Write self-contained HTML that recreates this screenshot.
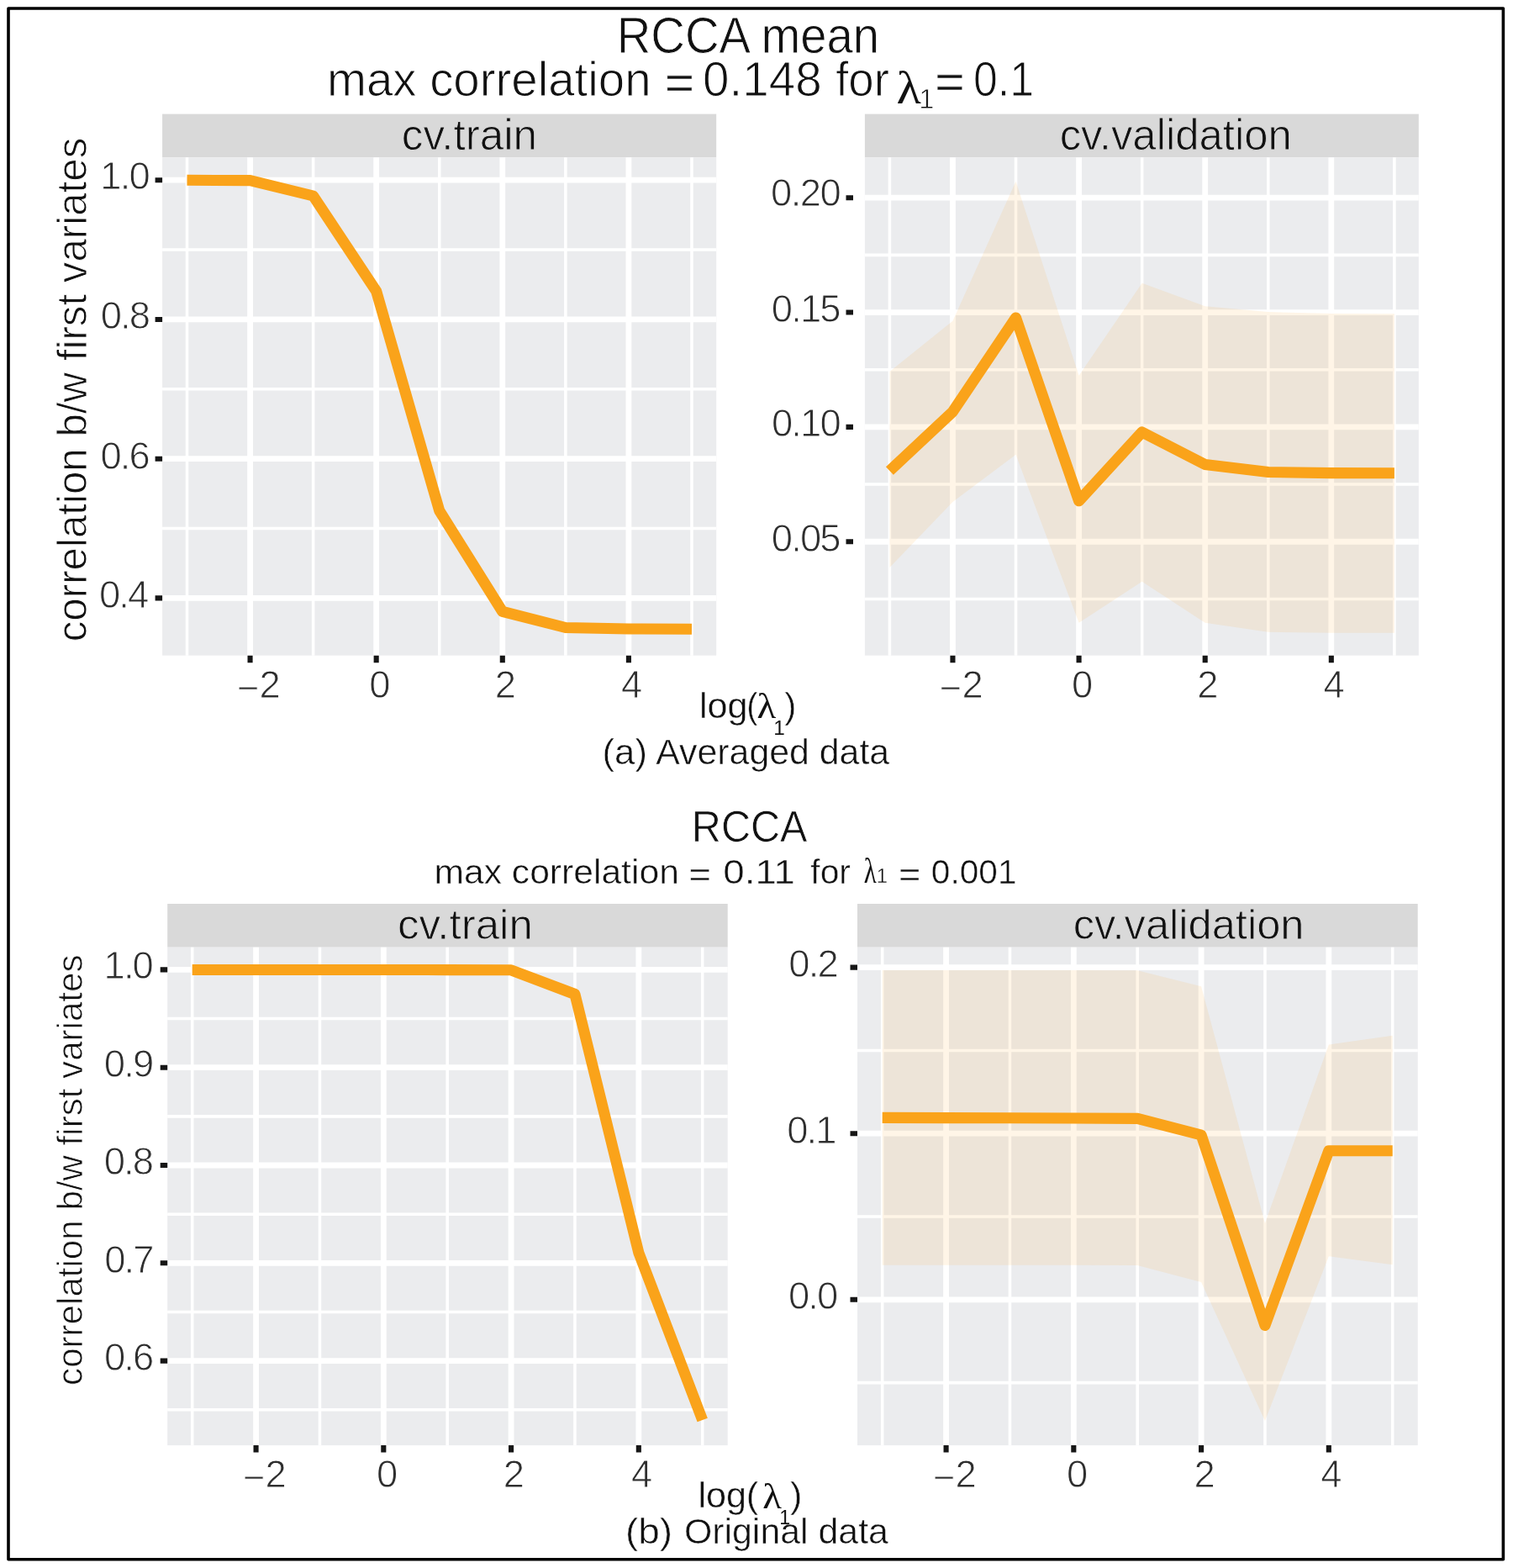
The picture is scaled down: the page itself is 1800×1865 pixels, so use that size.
<!DOCTYPE html>
<html lang="en"><head><meta charset="utf-8"><title>RCCA cross-validation</title>
<style>html,body{margin:0;padding:0;background:#fff}svg{display:block}text{font-family:'Liberation Sans', sans-serif;white-space:pre}</style>
</head><body>
<svg width="1800" height="1865" viewBox="0 0 1800 1865">
<rect x="0" y="0" width="1800" height="1865" fill="#fff"/>
<rect x="10" y="10" width="1778.4" height="1844.7" fill="none" stroke="#000" stroke-width="3.6" stroke-linejoin="round"/>
<g id="tl">
<rect x="193.1" y="135.6" width="659.1" height="51.7" fill="#D9D9D9"/>
<rect x="193.1" y="187.3" width="659.1" height="592.35" fill="#EBECEE"/>
<path d="M193.1 297.07H852.2M193.1 462.81H852.2M193.1 628.55H852.2M222.5 187.3V779.65M372.62 187.3V779.65M522.74 187.3V779.65M672.86 187.3V779.65M822.98 187.3V779.65" stroke="#fff" stroke-width="3.55" fill="none"/>
<path d="M193.1 214.2H852.2M193.1 379.94H852.2M193.1 545.68H852.2M193.1 711.42H852.2M297.56 187.3V779.65M447.68 187.3V779.65M597.8 187.3V779.65M747.92 187.3V779.65" stroke="#fff" stroke-width="6.8" fill="none"/>
<polyline points="222.5,214.3 297.56,214.6 372.62,233 447.68,346.4 522.74,607.5 597.8,727.4 672.86,746.5 747.92,748 822.98,748.3" fill="none" stroke="#FAA31A" stroke-width="13.1" stroke-linejoin="round" stroke-linecap="butt"/>
<path d="M184.6 214.2H193.1M184.6 379.94H193.1M184.6 545.68H193.1M184.6 711.42H193.1M297.56 779.65V788.15M447.68 779.65V788.15M597.8 779.65V788.15M747.92 779.65V788.15" stroke="#161616" stroke-width="6.1" fill="none"/>
</g>
<g id="tr">
<rect x="1028.9" y="135.6" width="658.9" height="51.7" fill="#D9D9D9"/>
<rect x="1028.9" y="187.3" width="658.9" height="592.35" fill="#EBECEE"/>
<path d="M1028.9 303.38H1687.8M1028.9 439.73H1687.8M1028.9 576.08H1687.8M1028.9 712.42H1687.8M1058.4 187.3V779.65M1208.52 187.3V779.65M1358.64 187.3V779.65M1508.76 187.3V779.65M1658.88 187.3V779.65" stroke="#fff" stroke-width="3.55" fill="none"/>
<path d="M1028.9 235.2H1687.8M1028.9 371.55H1687.8M1028.9 507.9H1687.8M1028.9 644.25H1687.8M1133.46 187.3V779.65M1283.58 187.3V779.65M1433.7 187.3V779.65M1583.82 187.3V779.65" stroke="#fff" stroke-width="6.8" fill="none"/>
<polygon points="1058.4,442 1133.46,381.7 1208.52,215.8 1283.58,446.7 1358.64,336.7 1433.7,364.2 1508.76,371 1583.82,373 1658.88,373.3 1658.88,752.8 1583.82,752.8 1508.76,751.7 1433.7,740.8 1358.64,691.7 1283.58,740.8 1208.52,540.8 1133.46,597 1058.4,675" fill="#FFA828" fill-opacity="0.115"/>
<polyline points="1058.4,560 1133.46,489.7 1208.52,378 1283.58,595.8 1358.64,514 1433.7,552.5 1508.76,561.5 1583.82,562.6 1658.88,562.7" fill="none" stroke="#FAA31A" stroke-width="13.1" stroke-linejoin="round" stroke-linecap="butt"/>
<path d="M1006.5 235.2H1015M1006.5 371.55H1015M1006.5 507.9H1015M1006.5 644.25H1015M1133.46 779.65V788.15M1283.58 779.65V788.15M1433.7 779.65V788.15M1583.82 779.65V788.15" stroke="#161616" stroke-width="6.1" fill="none"/>
</g>
<g id="bl">
<rect x="199.2" y="1075" width="666.5" height="51.7" fill="#D9D9D9"/>
<rect x="199.2" y="1126.7" width="666.5" height="592.4" fill="#EBECEE"/>
<path d="M199.2 1211.55H865.7M199.2 1327.85H865.7M199.2 1444.15H865.7M199.2 1560.45H865.7M199.2 1676.75H865.7M228.7 1126.7V1719.1M380.45 1126.7V1719.1M532.2 1126.7V1719.1M683.95 1126.7V1719.1M835.7 1126.7V1719.1" stroke="#fff" stroke-width="3.55" fill="none"/>
<path d="M199.2 1153.4H865.7M199.2 1269.7H865.7M199.2 1386H865.7M199.2 1502.3H865.7M199.2 1618.6H865.7M304.57 1126.7V1719.1M456.32 1126.7V1719.1M608.08 1126.7V1719.1M759.83 1126.7V1719.1" stroke="#fff" stroke-width="6.8" fill="none"/>
<polyline points="228.7,1153.5 304.57,1153.5 380.45,1153.5 456.32,1153.5 532.2,1153.6 608.08,1153.8 683.95,1182.5 759.83,1490 835.7,1689" fill="none" stroke="#FAA31A" stroke-width="13.1" stroke-linejoin="round" stroke-linecap="butt"/>
<path d="M190.7 1153.4H199.2M190.7 1269.7H199.2M190.7 1386H199.2M190.7 1502.3H199.2M190.7 1618.6H199.2M304.57 1719.1V1727.6M456.32 1719.1V1727.6M608.08 1719.1V1727.6M759.83 1719.1V1727.6" stroke="#161616" stroke-width="6.1" fill="none"/>
</g>
<g id="br">
<rect x="1020" y="1075" width="666.7" height="51.7" fill="#D9D9D9"/>
<rect x="1020" y="1126.7" width="666.7" height="592.4" fill="#EBECEE"/>
<path d="M1020 1249.4H1686.7M1020 1447H1686.7M1020 1644.6H1686.7M1049.7 1126.7V1719.1M1201.45 1126.7V1719.1M1353.2 1126.7V1719.1M1504.95 1126.7V1719.1M1656.7 1126.7V1719.1" stroke="#fff" stroke-width="3.55" fill="none"/>
<path d="M1020 1150.6H1686.7M1020 1348.2H1686.7M1020 1545.8H1686.7M1125.58 1126.7V1719.1M1277.33 1126.7V1719.1M1429.08 1126.7V1719.1M1580.83 1126.7V1719.1" stroke="#fff" stroke-width="6.8" fill="none"/>
<polygon points="1049.7,1154 1125.58,1154 1201.45,1154 1277.33,1154 1353.2,1154.2 1429.08,1173.3 1504.95,1455 1580.83,1242.5 1656.7,1231.7 1656.7,1504.2 1580.83,1494.2 1504.95,1690 1429.08,1525 1353.2,1505 1277.33,1504.7 1201.45,1504.7 1125.58,1504.7 1049.7,1504.7" fill="#FFA828" fill-opacity="0.115"/>
<polyline points="1049.7,1329.4 1125.58,1329.6 1201.45,1329.8 1277.33,1330 1353.2,1330.4 1429.08,1350 1504.95,1576.5 1580.83,1368.8 1656.7,1368.8" fill="none" stroke="#FAA31A" stroke-width="13.1" stroke-linejoin="round" stroke-linecap="butt"/>
<path d="M1011.5 1150.6H1020M1011.5 1348.2H1020M1011.5 1545.8H1020M1125.58 1719.1V1727.6M1277.33 1719.1V1727.6M1429.08 1719.1V1727.6M1580.83 1719.1V1727.6" stroke="#161616" stroke-width="6.1" fill="none"/>
</g>
<g id="labels">
<text id="title1" x="733.75" y="63.02" font-size="60.9" textLength="312.21" lengthAdjust="spacingAndGlyphs" fill="#111" stroke="#fff" stroke-width="0.8">RCCA mean</text>
<text id="sub1-line"><tspan x="388.95" y="114.49" font-size="56.69" textLength="385.57" lengthAdjust="spacingAndGlyphs" fill="#111" stroke="#fff" stroke-width="1.0">max correlation</tspan> <tspan x="790.88" y="117.61" font-size="56.69" textLength="35.44" lengthAdjust="spacingAndGlyphs" fill="#111" stroke="#fff" stroke-width="0.7">=</tspan> <tspan x="836.11" y="114.49" font-size="56.69" textLength="141.5" lengthAdjust="spacingAndGlyphs" fill="#111" stroke="#fff" stroke-width="1.0">0.148</tspan> <tspan x="994.15" y="114.49" font-size="56.69" textLength="63.75" lengthAdjust="spacingAndGlyphs" fill="#111" stroke="#fff" stroke-width="1.0">for</tspan> <tspan x="1066.56" y="123.06" font-size="53.98" textLength="29.36" lengthAdjust="spacingAndGlyphs" fill="#111" style="font-family:'Liberation Serif', serif">λ</tspan><tspan x="1093.16" y="128.73" font-size="32.67" fill="#111" stroke="#fff" stroke-width="0.8">1</tspan> <tspan x="1112.09" y="117.11" font-size="56.69" textLength="35.95" lengthAdjust="spacingAndGlyphs" fill="#111" stroke="#fff" stroke-width="0.7">=</tspan> <tspan x="1157.94" y="114.49" font-size="56.69" textLength="72.05" lengthAdjust="spacingAndGlyphs" fill="#111" stroke="#fff" stroke-width="1.0">0.1</tspan></text>
<text id="strip1" x="477.78" y="177.75" font-size="51.8" textLength="161.33" lengthAdjust="spacingAndGlyphs" fill="#111" stroke="#D9D9D9" stroke-width="0.9">cv.train</text>
<text id="strip2" x="1260.64" y="177.75" font-size="51.8" textLength="276.31" lengthAdjust="spacingAndGlyphs" fill="#111" stroke="#D9D9D9" stroke-width="0.9">cv.validation</text>
<text id="ylab1" x="103.19" y="763.3" font-size="50.39" textLength="599.65" lengthAdjust="spacingAndGlyphs" fill="#111" stroke="#fff" stroke-width="0.9" transform="rotate(-90 103.19 763.3)">correlation b/w first variates</text>
<text id="tly0" x="178.65" y="225.24" font-size="45.42" textLength="59.33" lengthAdjust="spacing" fill="#2e2e2e" stroke="#fff" stroke-width="0.9" text-anchor="end">1.0</text>
<text id="tly1" x="179.02" y="391.35" font-size="45.42" textLength="59.33" lengthAdjust="spacing" fill="#2e2e2e" stroke="#fff" stroke-width="0.9" text-anchor="end">0.8</text>
<text id="tly2" x="178.8" y="557.53" font-size="45.42" textLength="59.33" lengthAdjust="spacing" fill="#2e2e2e" stroke="#fff" stroke-width="0.9" text-anchor="end">0.6</text>
<text id="tly3" x="177.32" y="722.64" font-size="45.42" textLength="59.33" lengthAdjust="spacing" fill="#2e2e2e" stroke="#fff" stroke-width="0.9" text-anchor="end">0.4</text>
<text id="ytick0" x="1000.72" y="245.14" font-size="45.42" textLength="83.79" lengthAdjust="spacing" fill="#2e2e2e" stroke="#fff" stroke-width="0.9" text-anchor="end">0.20</text>
<text id="try0" x="1000.52" y="382.59" font-size="45.42" textLength="82.67" lengthAdjust="spacing" fill="#2e2e2e" stroke="#fff" stroke-width="0.9" text-anchor="end">0.15</text>
<text id="try1" x="1000.65" y="519.04" font-size="45.42" textLength="82.67" lengthAdjust="spacing" fill="#2e2e2e" stroke="#fff" stroke-width="0.9" text-anchor="end">0.10</text>
<text id="try2" x="1000.52" y="656.49" font-size="45.42" textLength="82.67" lengthAdjust="spacing" fill="#2e2e2e" stroke="#fff" stroke-width="0.9" text-anchor="end">0.05</text>
<text id="tlx0" x="307.89" y="829.74" font-size="45.42" fill="#2e2e2e" stroke="#fff" stroke-width="0.9" text-anchor="middle"><tspan dy="3.86">−</tspan><tspan dy="-3.86">2</tspan></text>
<text id="tlx1" x="451.77" y="829.86" font-size="45.42" fill="#2e2e2e" stroke="#fff" stroke-width="0.9" text-anchor="middle">0</text>
<text id="tlx2" x="601.3" y="829.74" font-size="45.42" fill="#2e2e2e" stroke="#fff" stroke-width="0.9" text-anchor="middle">2</text>
<text id="tlx3" x="751.56" y="829.74" font-size="45.42" fill="#2e2e2e" stroke="#fff" stroke-width="0.9" text-anchor="middle">4</text>
<text id="trx0" x="1143.76" y="829.74" font-size="45.42" fill="#2e2e2e" stroke="#fff" stroke-width="0.9" text-anchor="middle"><tspan dy="3.86">−</tspan><tspan dy="-3.86">2</tspan></text>
<text id="trx1" x="1287.69" y="829.83" font-size="45.42" fill="#2e2e2e" stroke="#fff" stroke-width="0.9" text-anchor="middle">0</text>
<text id="trx2" x="1436.95" y="829.74" font-size="45.42" fill="#2e2e2e" stroke="#fff" stroke-width="0.9" text-anchor="middle">2</text>
<text id="trx3" x="1587.24" y="829.74" font-size="45.42" fill="#2e2e2e" stroke="#fff" stroke-width="0.9" text-anchor="middle">4</text>
<text id="xlab1-line"><tspan x="831.97" y="854.46" font-size="42" textLength="57.67" lengthAdjust="spacingAndGlyphs" fill="#111" stroke="#fff" stroke-width="0.4">log</tspan><tspan x="888.32" y="854.46" font-size="42" textLength="13.21" lengthAdjust="spacingAndGlyphs" fill="#111" stroke="#fff" stroke-width="0.4">(</tspan><tspan x="900.4" y="854.06" font-size="41.18" textLength="22.77" lengthAdjust="spacingAndGlyphs" fill="#111" style="font-family:'Liberation Serif', serif">λ</tspan><tspan x="920.15" y="874.38" font-size="24.34" fill="#111">1</tspan><tspan x="933.2" y="854.46" font-size="42" textLength="14.11" lengthAdjust="spacingAndGlyphs" fill="#111" stroke="#fff" stroke-width="0.4">)</tspan></text>
<text id="cap1-line"><tspan x="716.51" y="908.8" font-size="43.2" textLength="53.48" lengthAdjust="spacingAndGlyphs" fill="#111" stroke="#fff" stroke-width="0.5">(a)</tspan> <tspan x="780.25" y="908.8" font-size="43.2" textLength="277.94" lengthAdjust="spacingAndGlyphs" fill="#111" stroke="#fff" stroke-width="0.5">Averaged data</tspan></text>
<text id="title2" x="822.84" y="1000.96" font-size="51.55" textLength="137.63" lengthAdjust="spacingAndGlyphs" fill="#111" stroke="#fff" stroke-width="0.7">RCCA</text>
<text id="sub2-line"><tspan x="516.5" y="1050.96" font-size="41.09" textLength="291.34" lengthAdjust="spacingAndGlyphs" fill="#111" stroke="#fff" stroke-width="0.5">max correlation</tspan> <tspan x="819.58" y="1053.63" font-size="41.09" textLength="26.56" lengthAdjust="spacingAndGlyphs" fill="#111" stroke="#fff" stroke-width="0.4">=</tspan> <tspan x="860.26" y="1050.96" font-size="41.09" textLength="85.7" lengthAdjust="spacingAndGlyphs" fill="#111" stroke="#fff" stroke-width="0.5">0.11</tspan> <tspan x="964.3" y="1050.96" font-size="41.09" textLength="47.62" lengthAdjust="spacingAndGlyphs" fill="#111" stroke="#fff" stroke-width="0.5">for</tspan> <tspan x="1027.74" y="1049.76" font-size="41.71" textLength="14.93" lengthAdjust="spacingAndGlyphs" fill="#111" style="font-family:'Liberation Serif', serif">λ</tspan><tspan x="1042.78" y="1049.68" font-size="23.93" fill="#111" stroke="#fff" stroke-width="0.3">1</tspan> <tspan x="1069.09" y="1053.63" font-size="41.09" textLength="26.27" lengthAdjust="spacingAndGlyphs" fill="#111" stroke="#fff" stroke-width="0.4">=</tspan> <tspan x="1107.85" y="1050.96" font-size="41.09" textLength="101.63" lengthAdjust="spacingAndGlyphs" fill="#111" stroke="#fff" stroke-width="0.5">0.001</tspan></text>
<text id="strip3" x="472.99" y="1117.18" font-size="50.42" textLength="160.89" lengthAdjust="spacingAndGlyphs" fill="#111" stroke="#D9D9D9" stroke-width="0.9">cv.train</text>
<text id="strip4" x="1276.68" y="1117.18" font-size="50.42" textLength="274.75" lengthAdjust="spacingAndGlyphs" fill="#111" stroke="#D9D9D9" stroke-width="0.9">cv.validation</text>
<text id="ylab2" x="97.7" y="1647.87" font-size="43.04" textLength="512.4" lengthAdjust="spacingAndGlyphs" fill="#111" stroke="#fff" stroke-width="0.8" transform="rotate(-90 97.7 1647.87)">correlation b/w first variates</text>
<text id="bly0" x="182.87" y="1164.24" font-size="45.42" textLength="59.33" lengthAdjust="spacing" fill="#2e2e2e" stroke="#fff" stroke-width="0.9" text-anchor="end">1.0</text>
<text id="bly1" x="183.17" y="1281.34" font-size="45.42" textLength="59.33" lengthAdjust="spacing" fill="#2e2e2e" stroke="#fff" stroke-width="0.9" text-anchor="end">0.9</text>
<text id="bly2" x="183.09" y="1397.44" font-size="45.42" textLength="59.33" lengthAdjust="spacing" fill="#2e2e2e" stroke="#fff" stroke-width="0.9" text-anchor="end">0.8</text>
<text id="bly3" x="183.54" y="1513.54" font-size="45.42" textLength="59.33" lengthAdjust="spacing" fill="#2e2e2e" stroke="#fff" stroke-width="0.9" text-anchor="end">0.7</text>
<text id="bly4" x="183.22" y="1629.64" font-size="45.42" textLength="59.33" lengthAdjust="spacing" fill="#2e2e2e" stroke="#fff" stroke-width="0.9" text-anchor="end">0.6</text>
<text id="bry0" x="997.66" y="1161.64" font-size="45.42" textLength="59.33" lengthAdjust="spacing" fill="#2e2e2e" stroke="#fff" stroke-width="0.9" text-anchor="end">0.2</text>
<text id="bry1" x="995.49" y="1359.84" font-size="45.42" textLength="59.33" lengthAdjust="spacing" fill="#2e2e2e" stroke="#fff" stroke-width="0.9" text-anchor="end">0.1</text>
<text id="bry2" x="997.23" y="1557.04" font-size="45.42" textLength="59.33" lengthAdjust="spacing" fill="#2e2e2e" stroke="#fff" stroke-width="0.9" text-anchor="end">0.0</text>
<text id="blx0" x="314.94" y="1769.04" font-size="45.42" fill="#2e2e2e" stroke="#fff" stroke-width="0.9" text-anchor="middle"><tspan dy="3.86">−</tspan><tspan dy="-3.86">2</tspan></text>
<text id="blx1" x="460.55" y="1769.13" font-size="45.42" fill="#2e2e2e" stroke="#fff" stroke-width="0.9" text-anchor="middle">0</text>
<text id="blx2" x="611.4" y="1769.04" font-size="45.42" fill="#2e2e2e" stroke="#fff" stroke-width="0.9" text-anchor="middle">2</text>
<text id="blx3" x="763.66" y="1769.04" font-size="45.42" fill="#2e2e2e" stroke="#fff" stroke-width="0.9" text-anchor="middle">4</text>
<text id="brx0" x="1135.94" y="1769.04" font-size="45.42" fill="#2e2e2e" stroke="#fff" stroke-width="0.9" text-anchor="middle"><tspan dy="3.86">−</tspan><tspan dy="-3.86">2</tspan></text>
<text id="brx1" x="1281.55" y="1769.13" font-size="45.42" fill="#2e2e2e" stroke="#fff" stroke-width="0.9" text-anchor="middle">0</text>
<text id="brx2" x="1433.06" y="1769.04" font-size="45.42" fill="#2e2e2e" stroke="#fff" stroke-width="0.9" text-anchor="middle">2</text>
<text id="brx3" x="1583.91" y="1769.04" font-size="45.42" fill="#2e2e2e" stroke="#fff" stroke-width="0.9" text-anchor="middle">4</text>
<text id="xlab2-line"><tspan x="830.47" y="1792.76" font-size="42.06" textLength="57.53" lengthAdjust="spacingAndGlyphs" fill="#111" stroke="#fff" stroke-width="0.4">log</tspan><tspan x="887.74" y="1792.76" font-size="42.06" textLength="14.52" lengthAdjust="spacingAndGlyphs" fill="#111" stroke="#fff" stroke-width="0.4">(</tspan><tspan x="907.17" y="1793.76" font-size="42.92" textLength="22.68" lengthAdjust="spacingAndGlyphs" fill="#111" style="font-family:'Liberation Serif', serif">λ</tspan><tspan x="927.21" y="1812.98" font-size="23.25" fill="#111">1</tspan><tspan x="939.99" y="1792.76" font-size="42.06" textLength="14.36" lengthAdjust="spacingAndGlyphs" fill="#111" stroke="#fff" stroke-width="0.4">)</tspan></text>
<text id="cap2-line"><tspan x="743.9" y="1836.3" font-size="43.2" textLength="56.19" lengthAdjust="spacingAndGlyphs" fill="#111" stroke="#fff" stroke-width="0.5">(b)</tspan> <tspan x="813.9" y="1836.3" font-size="43.2" textLength="243.05" lengthAdjust="spacingAndGlyphs" fill="#111" stroke="#fff" stroke-width="0.5">Original data</tspan></text>
</g>
</svg></body></html>
